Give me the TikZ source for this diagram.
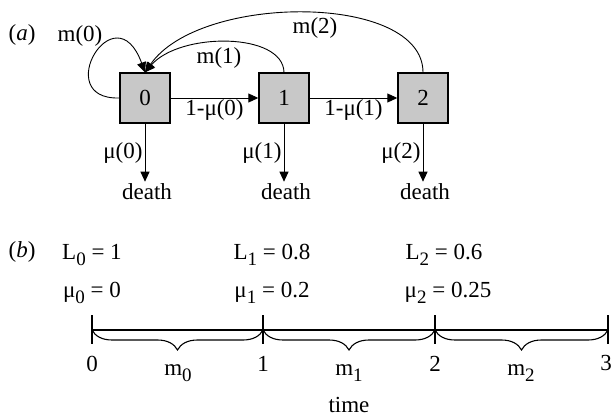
\documentclass[tikz,border=0pt]{standalone}
\usepackage{fontspec}
\setmainfont{Liberation Serif}
\usepackage{tikz}
\usetikzlibrary{arrows.meta,decorations.pathreplacing}
\definecolor{boxgray}{HTML}{C8C8C8}
\newcommand{\lowsub}[1]{\raisebox{-0.28em}{\fontsize{19}{19}\selectfont #1}}

\begin{document}
\begin{tikzpicture}[x=1pt,y=-1pt,font=\fontsize{23}{27}\selectfont,
	stage/.style={draw,fill=boxgray,line width=1.4pt,minimum size=50pt,inner sep=0pt},
	arr/.style={-{Triangle[length=10pt,width=9pt]},line width=0.9pt},
	brc/.style={decorate,decoration={brace,mirror,amplitude=20pt},line width=1.1pt}]
	\useasboundingbox (0,0) rectangle (614,417);
	% (a)
	\node (la) at (22,35) {(\textit{a})};
	\node[stage] (s0) at (145,98) {0};
	\node[stage] (s1) at (284,98) {1};
	\node[stage] (s2) at (423,98) {2};
	\node[inner sep=2pt] (d0) at (147,192) {death};
	\node[inner sep=2pt] (d1) at (286,192) {death};
	\node[inner sep=2pt] (d2) at (425,192) {death};
	\draw[arr] (s0) -- node[below,inner sep=1pt] {1-μ(0)} (s1);
	\draw[arr] (s1) -- node[below,inner sep=1pt] {1-μ(1)} (s2);
	\draw[arr] (s0.south) -- node[left,inner sep=2pt] {μ(0)} (s0.south |- d0.north);
	\draw[arr] (s1.south) -- node[left,inner sep=2pt] {μ(1)} (s1.south |- d1.north);
	\draw[arr] (s2.south) -- node[left,inner sep=2pt] {μ(2)} (s2.south |- d2.north);
	\draw[arr] (s0.west) .. controls (50,100) and (115,-10) .. (s0.north);
	\draw[arr] (s1.north) .. controls (283,32) and (180,32) .. (s0.north);
	\draw[arr] (s2.north) .. controls (423,-7) and (200,-7) .. (s0.north);
	\node (m0) at (80,36) {m(0)};
	\node (m1) at (219,58) {m(1)};
	\node (m2) at (315,28) {m(2)};
	% (b)
	\node (lb) at (22,252) {(\textit{b})};
	\node (L0) at (92,255) {L\lowsub{0} = 1};
	\node (L1) at (272,255) {L\lowsub{1} = 0.8};
	\node (L2) at (444,255) {L\lowsub{2} = 0.6};
	\node (u0) at (92,293) {μ\lowsub{0} = 0};
	\node (u1) at (272,293) {μ\lowsub{1} = 0.2};
	\node (u2) at (448,293) {μ\lowsub{2} = 0.25};
	\coordinate (t0) at (92,330);
	\coordinate (t1) at (263,330);
	\coordinate (t2) at (435,330);
	\coordinate (t3) at (608,330);
	\draw[line width=1.8pt] (t0) -- (t3);
	\foreach \t in {t0,t1,t2,t3}
		\draw[line width=1.2pt] (\t) +(0,-15) -- +(0,14);
	\draw[brc] (t0) -- (t1);
	\draw[brc] (t1) -- (t2);
	\draw[brc] (t2) -- (t3);
	\node (n0) at (92,364) {0};
	\node (n1) at (263,364) {1};
	\node (n2) at (435,364) {2};
	\node (n3) at (606,363) {3};
	\node (g0) at (178,373) {m\lowsub{0}};
	\node (g1) at (349,373) {m\lowsub{1}};
	\node (g2) at (521,373) {m\lowsub{2}};
	\node (tm) at (349,405) {time};
\end{tikzpicture}
\end{document}
